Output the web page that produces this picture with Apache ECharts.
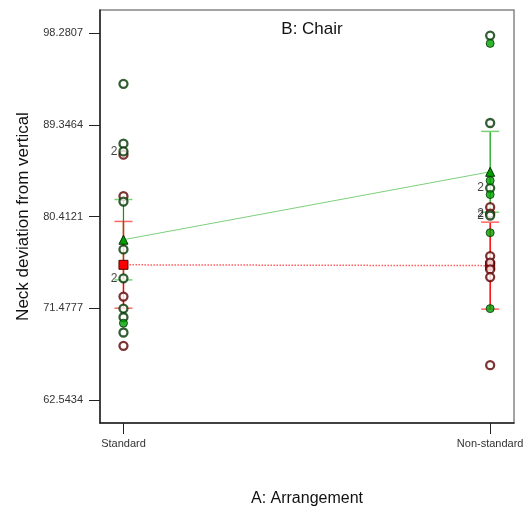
<!DOCTYPE html>
<html>
<head>
<meta charset="utf-8">
<script src="https://cdn.jsdelivr.net/npm/echarts@6/dist/echarts.min.js"></script>
<style>
  html, body { margin: 0; padding: 0; background: #fff; }
  #chart { width: 532px; height: 512px; }
</style>
</head>
<body>
<div id="chart"></div>
<script>
// factor A levels (x positions 0 and 1)
const arrangement = ['Standard', 'Non-standard']
const yTicks = [62.5434, 71.4777, 80.4121, 89.3464, 98.2807]

// B: Chair, level 1 (red) and level 2 (green) design points
const redStd = [86.44, 82.39, 72.60, 67.80]
const redStdCount = [1, 1, 1, 1]
const redNon = [81.32, 80.70, 76.55, 75.91, 75.26, 74.51, 65.92]
const redNonCount = [1, 2, 1, 1, 1, 1, 1]
const greenStd = [93.35, 87.51, 86.76, 81.87, 77.20, 74.38, 71.43, 70.59, 69.10]
const greenStdCount = [1, 1, 2, 1, 1, 2, 1, 1, 1]
const greenNon = [98.05, 89.53, 83.18, 80.51]
const greenNonCount = [1, 1, 2, 2]
const greenFilledStd = [70.01]
const greenFilledNon = [97.29, 83.91, 82.55, 78.83, 71.43]

// predicted means and half LSD bars
const redMeans = [75.70, 75.62]
const redHalf = [4.23, 4.24]
const greenMeans = [78.15, 84.77]
const greenHalf = [3.92, 3.94]

const font = 'Liberation Sans, Arial, sans-serif'

const toPoints = (x, vals, counts) => vals.map((v, i) => {
  const c = counts ? counts[i] : 1
  return {
    value: [x, v],
    label: { show: c > 1, formatter: String(c) }
  }
})

const barData = (means, half) => means.map((m, i) => [i, m, half[i]])

const barRenderer = (lineColor, capColor, lineWidth) => (params, api) => {
  const x = api.value(0)
  const m = api.value(1)
  const h = api.value(2)
  const top = api.coord([x, m + h])
  const bot = api.coord([x, m - h])
  const cap = 9
  return {
    type: 'group',
    children: [
      { type: 'line', shape: { x1: top[0], y1: top[1], x2: bot[0], y2: bot[1] },
        style: { stroke: lineColor, lineWidth: lineWidth } },
      { type: 'line', shape: { x1: top[0] - cap, y1: top[1], x2: top[0] + cap, y2: top[1] },
        style: { stroke: capColor, lineWidth: 1.5 } },
      { type: 'line', shape: { x1: bot[0] - cap, y1: bot[1], x2: bot[0] + cap, y2: bot[1] },
        style: { stroke: capColor, lineWidth: 1.5 } }
    ]
  }
}

const countLabel = {
  position: 'left',
  distance: 1,
  color: '#111',
  fontSize: 12,
  fontFamily: font
}

const chart = echarts.init(document.getElementById('chart'), null, { renderer: 'canvas' })

chart.setOption({
  animation: false,
  title: {
    text: 'B: Chair',
    left: 307,
    top: 16,
    textAlign: 'center',
    textStyle: { fontSize: 17, fontWeight: 'normal', color: '#111', fontFamily: font }
  },
  grid: {
    left: 100,
    right: 18,
    top: 10,
    bottom: 88,
    show: true,
    borderColor: '#858585',
    borderWidth: 1.5
  },
  xAxis: {
    type: 'value',
    min: -0.064,
    max: 1.065,
    name: 'A: Arrangement',
    nameLocation: 'middle',
    nameGap: 68,
    nameTextStyle: { fontSize: 16, color: '#111', fontFamily: font },
    axisLine: { onZero: false, lineStyle: { color: '#222', width: 1.5 } },
    axisTick: { customValues: [0, 1], length: 11, lineStyle: { color: '#222' } },
    axisLabel: {
      customValues: [0, 1],
      formatter: v => arrangement[Math.round(v)],
      margin: 15,
      fontSize: 11,
      color: '#333',
      fontFamily: font
    },
    splitLine: { show: false }
  },
  yAxis: {
    type: 'value',
    min: 60.277,
    max: 100.547,
    name: 'Neck deviation from vertical',
    nameLocation: 'middle',
    nameGap: 68,
    nameTextStyle: { fontSize: 17, color: '#111', fontFamily: font },
    axisLine: { show: true, onZero: false, lineStyle: { color: '#222', width: 1.5 } },
    axisTick: { show: true, customValues: yTicks, length: 11, lineStyle: { color: '#222' } },
    axisLabel: {
      customValues: yTicks,
      formatter: v => v.toFixed(4),
      margin: 17,
      fontSize: 11,
      color: '#333',
      fontFamily: font
    },
    splitLine: { show: false }
  },
  series: [
    {
      type: 'custom',
      z: 1,
      renderItem: barRenderer('#ff0000', '#ff6666', 1.5),
      data: barData(redMeans, redHalf)
    },
    {
      type: 'custom',
      z: 1,
      renderItem: barRenderer('#00a000', '#77d277', 1.2),
      data: barData(greenMeans, greenHalf)
    },
    {
      type: 'line',
      z: 2,
      data: redMeans.map((m, i) => [i, m]),
      symbol: 'rect',
      symbolSize: 9,
      lineStyle: { color: '#ff5a5a', width: 1.5, type: 'dotted' },
      itemStyle: { color: '#ff0000', borderColor: '#5a0000', borderWidth: 1 }
    },
    {
      type: 'line',
      z: 2,
      data: greenMeans.map((m, i) => [i, m]),
      symbol: 'triangle',
      symbolSize: 9,
      lineStyle: { color: '#7ccf7c', width: 1 },
      itemStyle: { color: '#00a000', borderColor: '#003000', borderWidth: 1 }
    },
    {
      type: 'scatter',
      z: 3,
      symbol: 'circle',
      symbolSize: 8,
      itemStyle: { color: '#fff', borderColor: '#5e0000', borderWidth: 2.3 },
      label: countLabel,
      data: toPoints(0, redStd, redStdCount).concat(toPoints(1, redNon, redNonCount))
    },
    {
      type: 'scatter',
      z: 3,
      symbol: 'circle',
      symbolSize: 8,
      itemStyle: { color: '#fff', borderColor: '#003600', borderWidth: 2.3 },
      label: countLabel,
      data: toPoints(0, greenStd, greenStdCount).concat(toPoints(1, greenNon, greenNonCount))
    },
    {
      type: 'scatter',
      z: 3,
      symbol: 'circle',
      symbolSize: 8,
      itemStyle: { color: '#00a000', borderColor: '#003600', borderWidth: 1 },
      data: toPoints(0, greenFilledStd).concat(toPoints(1, greenFilledNon))
    }
  ]
})
</script>
</body>
</html>
